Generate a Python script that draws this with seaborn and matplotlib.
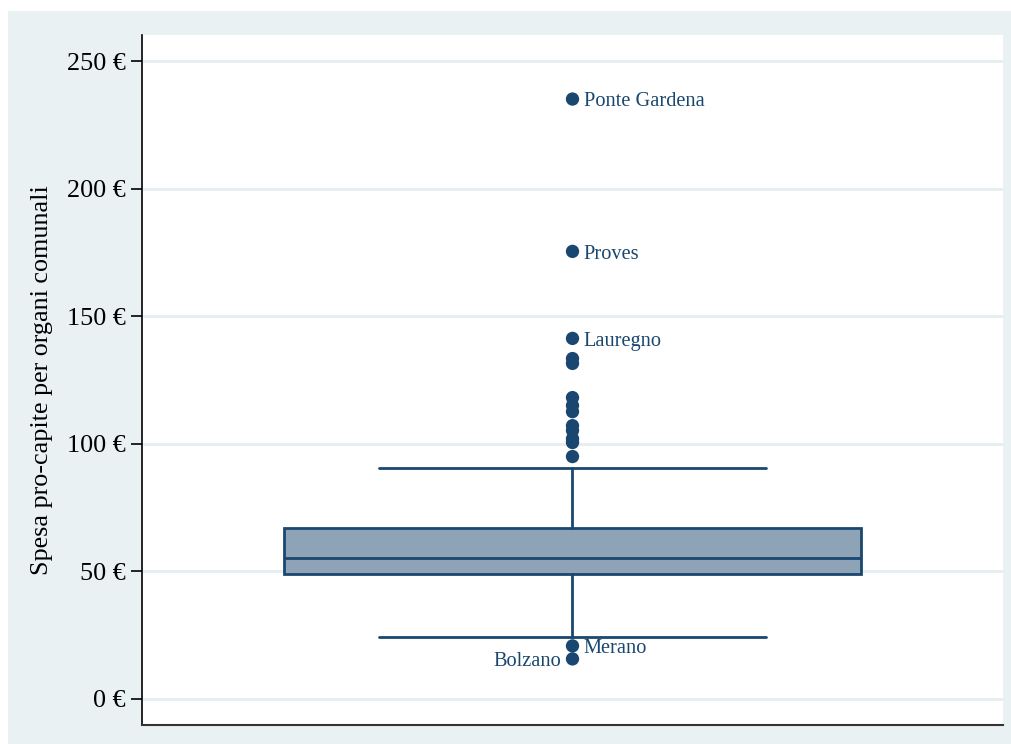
import matplotlib
matplotlib.use("Agg")
import matplotlib.pyplot as plt
from matplotlib.patches import Rectangle
import seaborn as sns
import pandas as pd

# Summary statistics of per-capita spending on municipal bodies (EUR)
q1 = 49.1
median = 55.3
q3 = 67.1
whisker_low = 24.3
whisker_high = 90.7

# Outlying municipalities (values above / below the whiskers)
outlier_values = [235.1, 175.4, 141.3, 133.4, 131.5, 118.1, 115.0, 112.6,
                  107.1, 105.2, 102.0, 100.5, 95.0, 20.8, 15.7]
outlier_names = ["Ponte Gardena", "Proves", "Lauregno", "", "", "", "", "",
                 "", "", "", "", "", "Merano", "Bolzano"]
label_side = ["right", "right", "right", "", "", "", "", "",
              "", "", "", "", "", "right", "left"]

y_ticks = [0, 50, 100, 150, 200, 250]
y_tick_labels = ["0 €", "50 €", "100 €", "150 €", "200 €", "250 €"]
y_title = "Spesa pro-capite per organi comunali"

navy = "#1a476f"
box_fill = "#8fa3b7"
panel_bg = "#eaf1f3"
grid_col = "#e6eef1"

sns.set_theme(style="white")
plt.rcParams["font.family"] = ["Liberation Serif", "DejaVu Serif"]

fig = plt.figure(figsize=(10.12, 7.44), dpi=100, facecolor="white")
fig.patches.append(Rectangle((8 / 1012, 0), 1 - 8 / 1012, 1 - 11 / 744,
                             transform=fig.transFigure, facecolor=panel_bg,
                             edgecolor="none", zorder=-10))
ax = fig.add_axes([142 / 1012, 1 - 725 / 744, 861 / 1012, 690 / 744])
ax.set_facecolor("white")

stats = [dict(med=median, q1=q1, q3=q3, whislo=whisker_low,
              whishi=whisker_high, fliers=[])]
line_kw = dict(color=navy, linewidth=2.0)
ax.bxp(stats, positions=[0], widths=[0.669], capwidths=[0.4506],
       patch_artist=True, showfliers=False,
       boxprops=dict(facecolor=box_fill, edgecolor=navy, linewidth=2.0),
       medianprops=line_kw, whiskerprops=line_kw, capprops=line_kw)

df = pd.DataFrame({"x": [0] * len(outlier_values), "y": outlier_values,
                   "name": outlier_names, "side": label_side})
sns.scatterplot(data=df, x="x", y="y", ax=ax, color=navy, s=92,
                edgecolor="none", zorder=5)

for _, row in df.iterrows():
    if not row["name"]:
        continue
    if row["side"] == "right":
        ax.annotate(row["name"], (row["x"], row["y"]), xytext=(8, -2),
                    textcoords="offset points", ha="left", va="center",
                    fontsize=14.7, color=navy)
    else:
        ax.annotate(row["name"], (row["x"], row["y"]), xytext=(-8, -2),
                    textcoords="offset points", ha="right", va="center",
                    fontsize=14.7, color=navy)

ax.set_xlim(-0.5, 0.5)
ax.set_ylim(-10.2, 260.2)
ax.set_xticks([])
ax.set_yticks(y_ticks)
ax.set_yticklabels(y_tick_labels)
ax.tick_params(axis="y", which="both", left=True, length=8, width=1.2,
               color="black", labelsize=18.8, labelcolor="black", pad=4)
ax.set_xlabel("")
ax.set_ylabel(y_title, fontsize=18.8, color="black", labelpad=10)

ax.grid(axis="y", color=grid_col, linewidth=2.0, zorder=0)
ax.set_axisbelow(True)
for side in ["top", "right"]:
    ax.spines[side].set_visible(False)
ax.spines["left"].set_color("black")
ax.spines["left"].set_linewidth(1.2)
ax.spines["bottom"].set_color("#333333")
ax.spines["bottom"].set_linewidth(1.5)

fig.savefig("out.png", dpi=100, facecolor=fig.get_facecolor())
